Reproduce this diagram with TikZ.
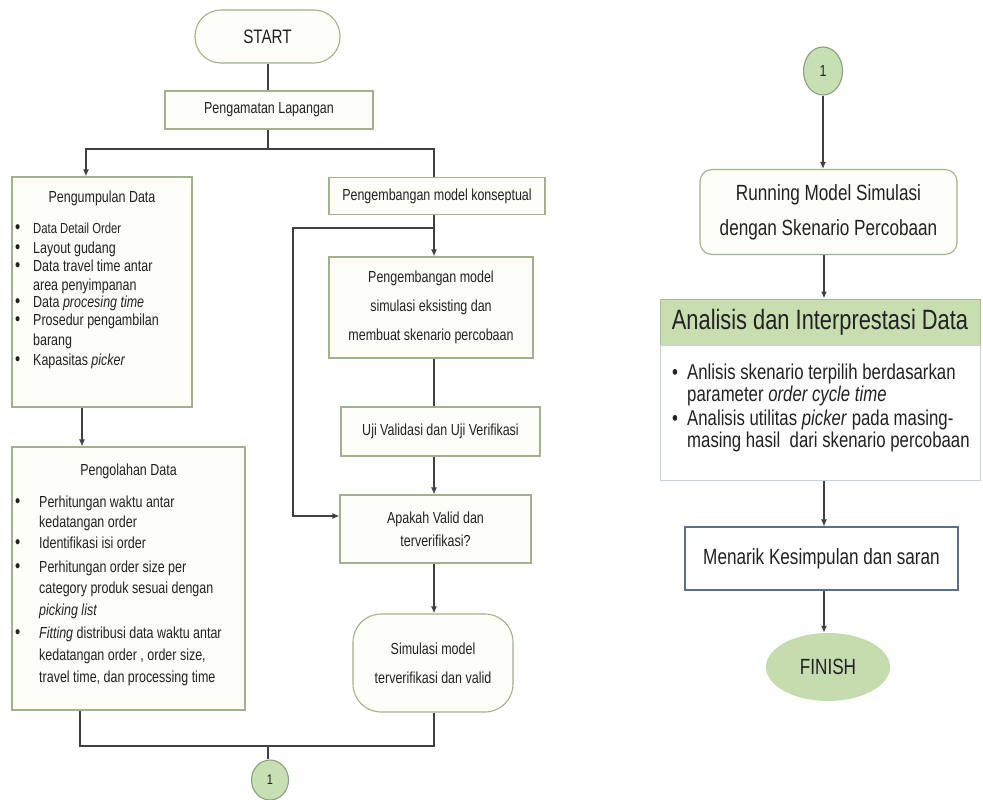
\documentclass[tikz,border=0pt]{standalone}
\usepackage{fontspec}
\setmainfont{Liberation Sans}[FakeStretch=0.78]
\usetikzlibrary{arrows.meta,shapes.geometric}
\definecolor{bord}{HTML}{A3B08E}
\definecolor{boxfill}{HTML}{FDFEF8}
\definecolor{lin}{HTML}{404040}
\definecolor{cgreen}{HTML}{C6E0B4}
\definecolor{cbord}{HTML}{8E9E84}
\definecolor{hgreen}{HTML}{C8DDB0}
\definecolor{hbord}{HTML}{A9BE95}
\definecolor{fgreen}{HTML}{C4DCAE}
\definecolor{menbord}{HTML}{5A7088}
\definecolor{bodybord}{HTML}{C8D0D8}
\definecolor{txt}{HTML}{222222}
\begin{document}
\begin{tikzpicture}[x=1pt,y=-1pt,
  box/.style={draw=bord, fill=boxfill, line width=1.1pt, inner sep=0pt, text=txt, align=center},
  conn/.style={draw=lin, line width=1.5pt},
  arr/.style={conn, -{Latex[length=7pt,width=6pt]}},
  lt/.style={anchor=base west, inner sep=0pt, text=txt, font=\fontsize{16}{19}\selectfont},
  lbul/.style={anchor=base west, inner sep=0pt, text=txt, font=\fontsize{19}{19}\selectfont},
  rt/.style={anchor=base west, inner sep=0pt, text=txt, font=\fontsize{21.5}{24}\selectfont},
  conncirc/.style={ellipse, draw=cbord, fill=cgreen, line width=1.1pt, inner sep=0pt, text=txt}
]
\useasboundingbox (0,0) rectangle (983,800);
\fill[white] (0,0) rectangle (983,800);

% ---------- left part ----------
\node[box, rounded corners=26pt, minimum width=145pt, minimum height=53pt,
      font=\fontsize{19.5}{22}\selectfont] (start) at (267.5,36.5) {START};
\node[box, minimum width=208pt, minimum height=38pt,
      font=\fontsize{16}{19}\selectfont] (pengamatan) at (269,110) {Pengamatan Lapangan};
\node[box, minimum width=180pt, minimum height=230pt] (pengumpulan) at (102,292) {};
\node[box, minimum width=233pt, minimum height=263pt] (pengolahan) at (128.5,578.5) {};
\node[box, minimum width=216pt, minimum height=37pt,
      font=\fontsize{16}{19}\selectfont] (konseptual) at (437,196) {Pengembangan model konseptual};
\node[box, minimum width=204pt, minimum height=101pt,
      font=\fontsize{16}{29}\selectfont] (simmodel) at (431,307.5)
      {Pengembangan model\\simulasi eksisting dan\\membuat skenario percobaan};
\node[box, minimum width=199pt, minimum height=49pt,
      font=\fontsize{16}{19}\selectfont] (uji) at (440.5,431.5) {Uji Validasi dan Uji Verifikasi};
\node[box, minimum width=191pt, minimum height=68pt,
      font=\fontsize{16}{23}\selectfont] (apakah) at (435.5,529) {Apakah Valid dan\\terverifikasi?};
\node[box, rounded corners=28pt, minimum width=160pt, minimum height=98pt,
      font=\fontsize{16}{29}\selectfont] (simulasi) at (433,663) {Simulasi model\\terverifikasi dan valid};
\node[conncirc, minimum width=37pt, minimum height=40pt,
      font=\fontsize{14}{16}\selectfont] (circL) at (270,780) {1};

% texts in Pengumpulan Data
\node[lt, anchor=base] (pktitle) at (102,202) {Pengumpulan Data};
\foreach \yy in {233,253,271,307,325,365}
  \node[lbul] (pkb\yy) at (15,\yy) {•};
\node[lt, font=\fontsize{14.5}{17}\selectfont] (pk1) at (33,233) {Data Detail Order};
\node[lt] (pk2) at (33,253) {Layout gudang};
\node[lt] (pk3) at (33,271) {Data travel time antar};
\node[lt] (pk4) at (33,290) {area penyimpanan};
\node[lt] (pk5) at (33,307) {Data \textit{procesing time}};
\node[lt] (pk6) at (33,325) {Prosedur pengambilan};
\node[lt] (pk7) at (33,345) {barang};
\node[lt] (pk8) at (33,365) {Kapasitas \textit{picker}};

% texts in Pengolahan Data
\node[lt, anchor=base] (potitle) at (128.5,475) {Pengolahan Data};
\foreach \yy in {507,548,572,638}
  \node[lbul] (pob\yy) at (15,\yy) {•};
\node[lt] (po1) at (39,507) {Perhitungan waktu antar};
\node[lt] (po2) at (39,527) {kedatangan order};
\node[lt] (po3) at (39,548) {Identifikasi isi order};
\node[lt] (po4) at (39,572) {Perhitungan order size per};
\node[lt] (po5) at (39,593) {category produk sesuai dengan};
\node[lt] (po6) at (39,615) {\textit{picking list}};
\node[lt] (po7) at (39,638) {\textit{Fitting} distribusi data waktu antar};
\node[lt] (po8) at (39,660) {kedatangan order , order size,};
\node[lt] (po9) at (39,682) {travel time, dan processing time};

% connectors left
\coordinate (colL) at (86,0);
\coordinate (colM) at (82,0);
\coordinate (colB) at (80,0);
\coordinate (colR) at (434,0);
\coordinate (j1) at (268,149);
\coordinate (fb) at (434,228);
\coordinate (fbL) at (293,516);
\coordinate (jb) at (268,746);
\draw[conn] (start.south -| j1) -- (pengamatan.north -| j1);
\draw[conn] (pengamatan.south -| j1) -- (j1);
\draw[arr] (j1) -| (pengumpulan.north -| colL);
\draw[conn] (j1) -| (konseptual.north -| colR);
\draw[arr] (konseptual.south -| colR) -- (simmodel.north -| colR);
\draw[arr] (fb) -| (fbL) -- (fbL -| apakah.west);
\draw[conn] (simmodel.south -| colR) -- (uji.north -| colR);
\draw[arr] (uji.south -| colR) -- (apakah.north -| colR);
\draw[arr] (apakah.south -| colR) -- (simulasi.north -| colR);
\draw[arr] (pengumpulan.south -| colM) -- (pengolahan.north -| colM);
\draw[conn] (pengolahan.south -| colB) -- (colB |- jb) -- (colR |- jb) -- (simulasi.south -| colR);
\draw[conn] (jb) -- (circL.north -| jb);

% ---------- right part ----------
\node[conncirc, minimum width=39pt, minimum height=48pt,
      font=\fontsize{16}{18}\selectfont] (circR) at (823,71) {1};
\node[box, rounded corners=12pt, minimum width=257pt, minimum height=85pt,
      font=\fontsize{22}{35}\selectfont] (running) at (828.5,212)
      {Running Model Simulasi\\dengan Skenario Percobaan};
\node[draw=hbord, fill=hgreen, line width=1pt, minimum width=320pt, minimum height=46pt,
      inner sep=0pt, text=txt, font=\fontsize{28}{32}\selectfont] (header) at (820,322)
      {Analisis dan Interprestasi Data};
\node[draw=bodybord, fill=white, line width=1pt, minimum width=320pt, minimum height=135pt,
      inner sep=0pt] (body) at (820,412.5) {};
\foreach \yy in {379,425}
  \node[rt] (bb\yy) at (672,\yy) {•};
\node[rt] (bt1) at (687,379) {Anlisis skenario terpilih berdasarkan};
\node[rt] (bt2) at (687,401) {parameter \textit{order cycle time}};
\node[rt] (bt3) at (687,425) {Analisis utilitas \textit{picker} pada masing-};
\node[rt] (bt4) at (687,447) {masing hasil\ \ dari skenario percobaan};
\node[draw=menbord, fill=white, line width=1.1pt, minimum width=273pt, minimum height=63pt,
      inner sep=0pt, text=txt, font=\fontsize{22}{26}\selectfont] (menarik) at (821.5,558.5)
      {Menarik Kesimpulan dan saran};
\node[ellipse, fill=fgreen, minimum width=124pt, minimum height=68pt, inner sep=0pt,
      text=txt, font=\fontsize{22}{26}\selectfont] (finish) at (828,667) {FINISH};

\coordinate (colX) at (824,0);
\draw[arr] (circR.south) -- (running.north -| circR.south);
\draw[arr] (running.south -| colX) -- (header.north -| colX);
\draw[arr] (body.south -| colX) -- (menarik.north -| colX);
\draw[arr] (menarik.south -| colX) -- (finish.north -| colX);
\end{tikzpicture}
\end{document}
